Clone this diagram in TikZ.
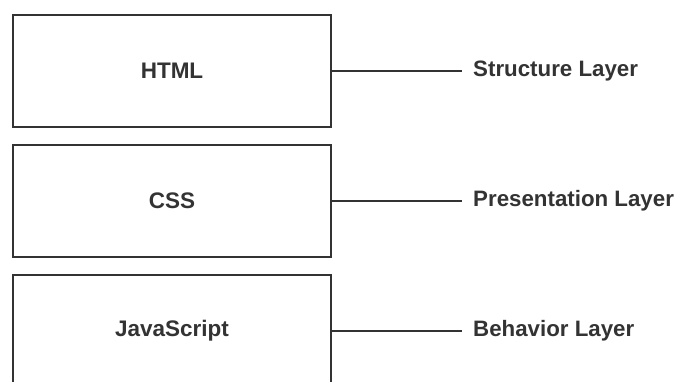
\documentclass[tikz,border=0pt]{standalone}
\usepackage{fontspec}
\setmainfont{Liberation Sans}
\definecolor{ink}{HTML}{333333}
\begin{document}
\begin{tikzpicture}[x=1pt,y=-1pt,
  layerbox/.style={draw=ink, line width=2.6pt, fill=white, minimum width=318pt, minimum height=112pt, inner sep=0pt, font=\fontsize{22.5}{26}\selectfont\bfseries, text=ink},
  layerlabel/.style={anchor=west, inner sep=0pt, font=\fontsize{22.3}{26}\selectfont\bfseries, text=ink},
  link/.style={draw=ink, line width=2pt, shorten >=11pt}]
\useasboundingbox (0,0) rectangle (675,381);
\clip (0,0) rectangle (675,381);
\fill[white] (0,0) rectangle (675,381);
\node[layerbox] (html) at (172,71) {HTML};
\node[layerbox] (css) at (172,201) {CSS};
\node[layerbox] (js) at (172,331) {JavaScript};
\node[layerlabel] (l1) at (473,71) {Structure Layer};
\node[layerlabel] (l2) at (473,201) {Presentation Layer};
\node[layerlabel] (l3) at (473,331) {Behavior Layer};
\draw[link] (html.east) -- (l1.west);
\draw[link] (css.east) -- (l2.west);
\draw[link] (js.east) -- (l3.west);
\end{tikzpicture}
\end{document}
